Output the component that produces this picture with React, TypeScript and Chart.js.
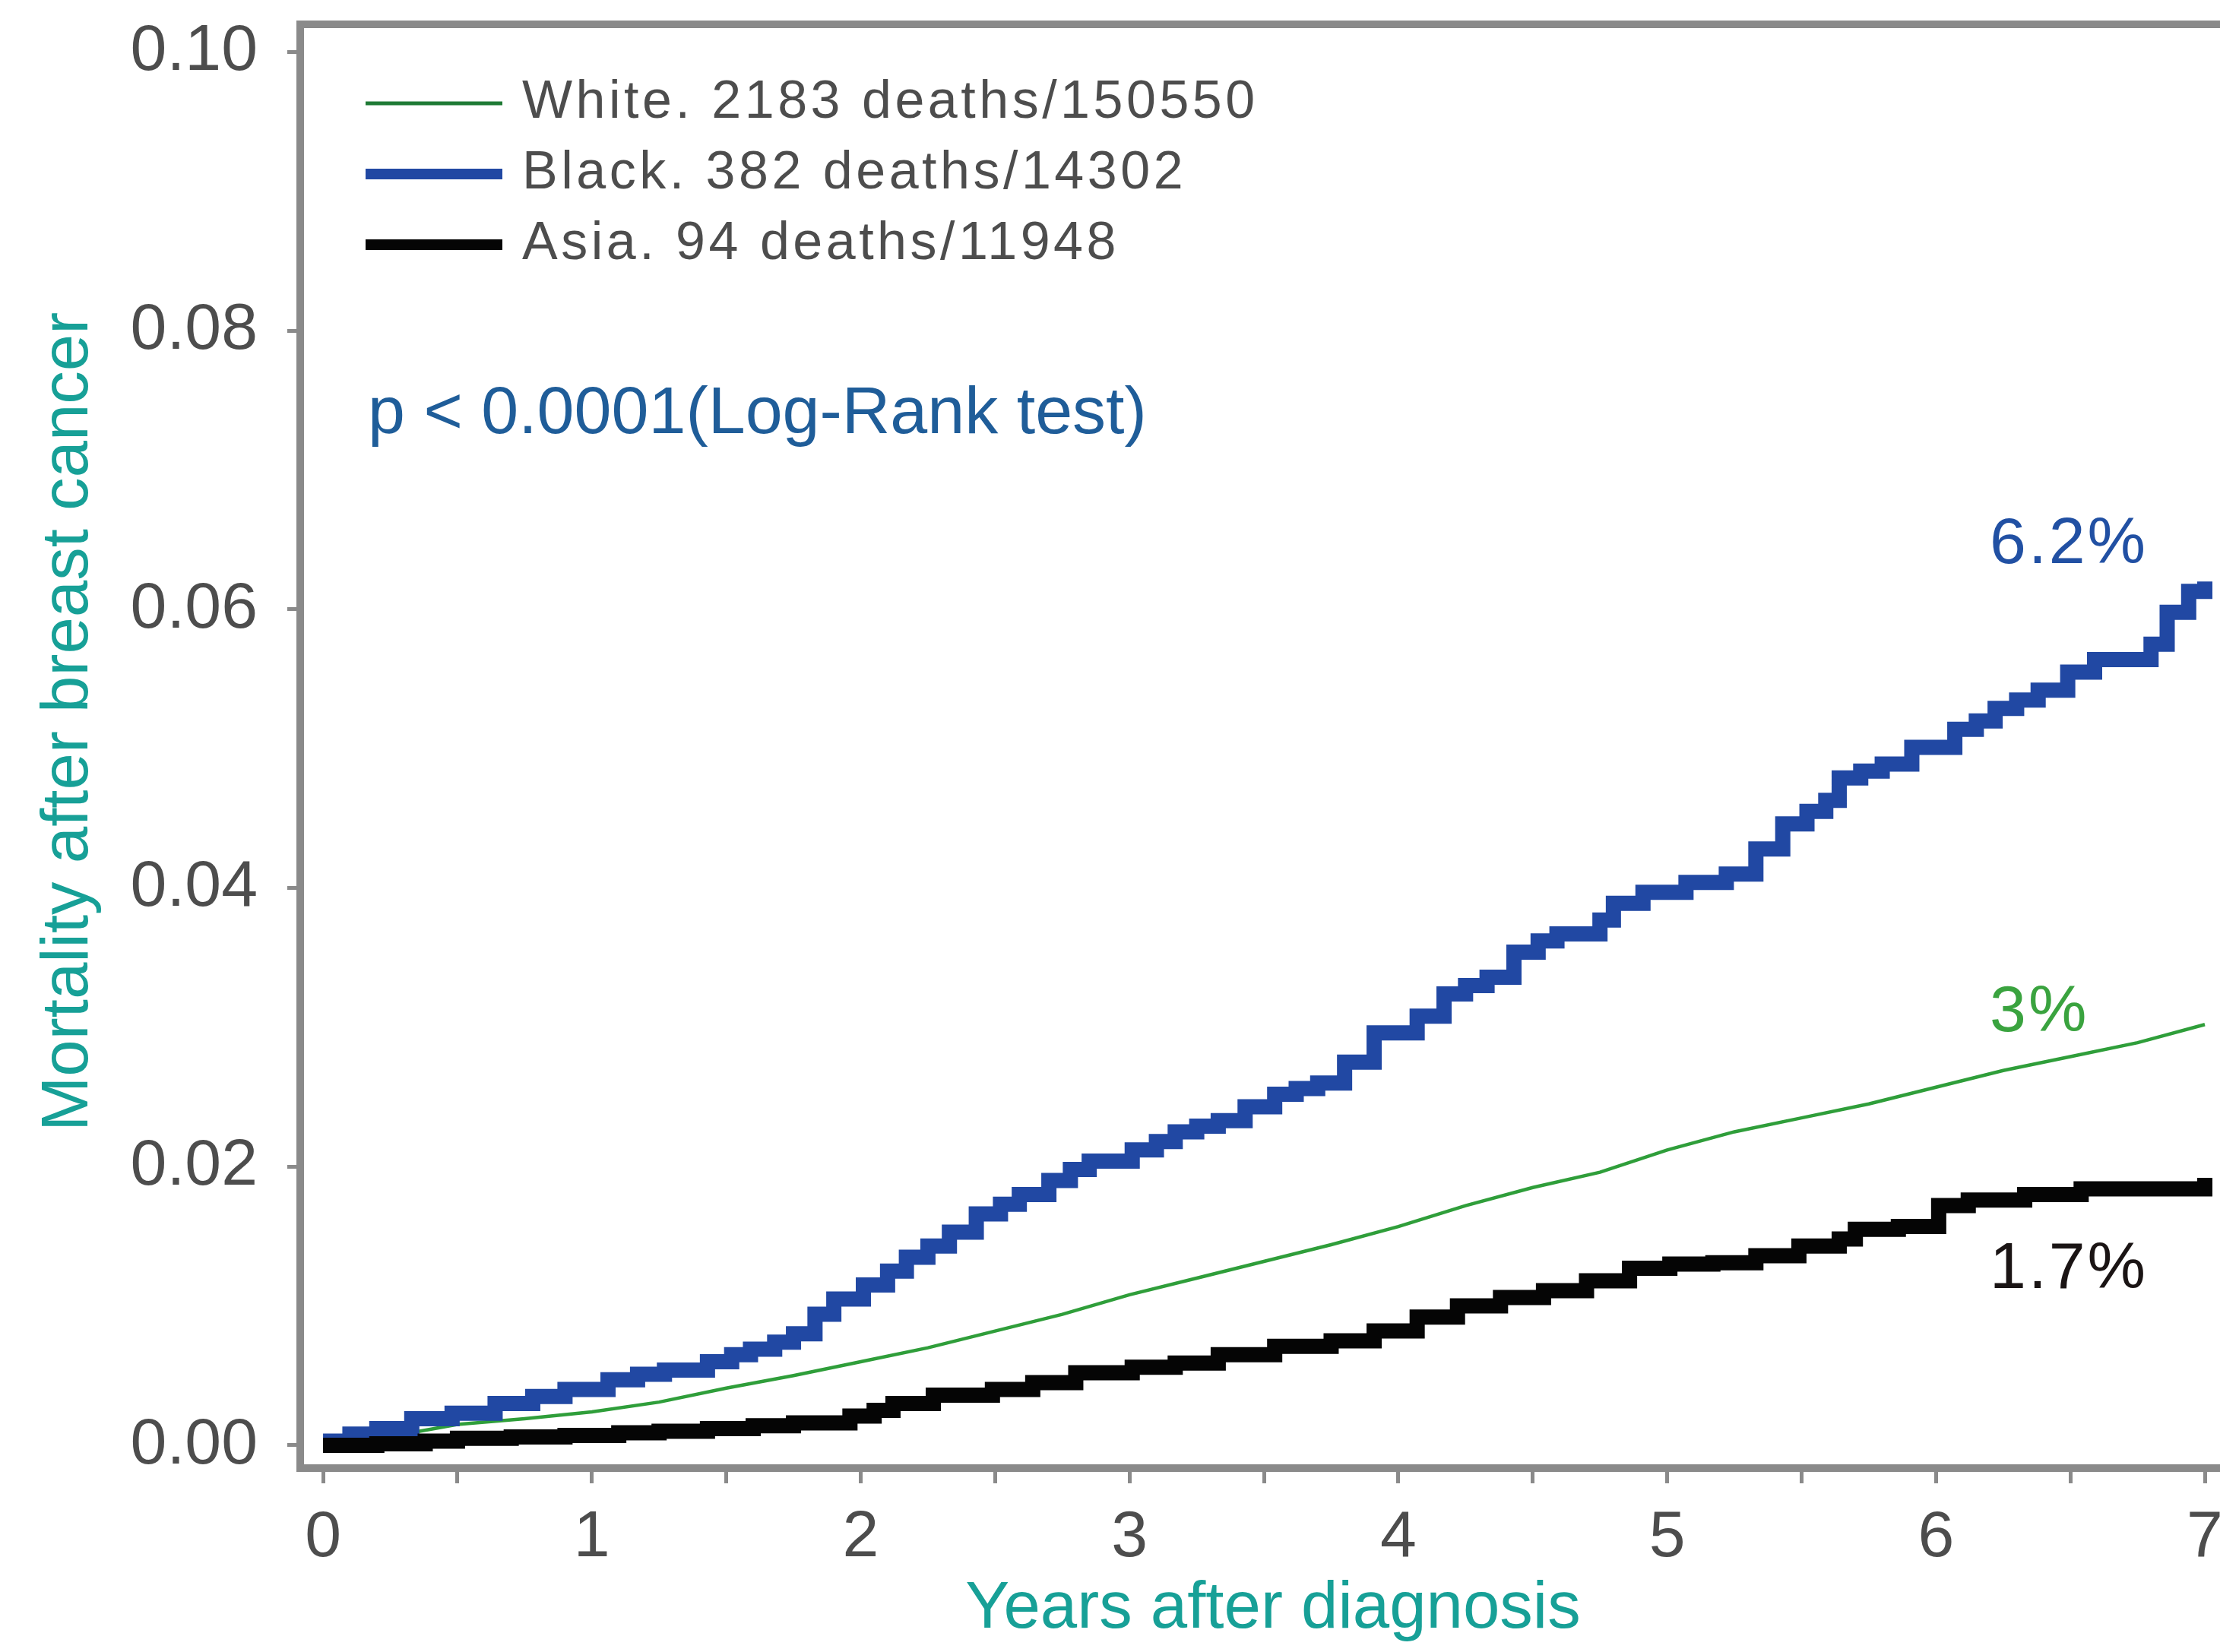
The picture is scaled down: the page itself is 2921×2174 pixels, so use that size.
import React, { useEffect, useRef } from 'react';
import { Chart, registerables } from 'chart.js';

Chart.register(...registerables);

const FONT = "'Liberation Sans', Arial, Helvetica, sans-serif";

// ---- Data ----
const seriesLabels = ['White. 2183 deaths/150550', 'Black. 382 deaths/14302', 'Asia. 94 deaths/11948'];

const whiteYears = [0, 0.15, 0.3, 0.5, 0.75, 1.0, 1.25, 1.5, 1.75, 2.0, 2.25, 2.5, 2.75, 3.0, 3.25, 3.5, 3.75, 4.0, 4.25, 4.5, 4.75, 5.0, 5.25, 5.5, 5.75, 6.0, 6.25, 6.5, 6.75, 7.0];
const whiteMortality = [0, 0.0003, 0.0008, 0.0015, 0.0019, 0.0024, 0.0031, 0.0041, 0.005, 0.006, 0.007, 0.0082, 0.0094, 0.0108, 0.012, 0.0132, 0.0144, 0.0157, 0.0172, 0.0185, 0.0196, 0.0212, 0.0225, 0.0235, 0.0245, 0.0257, 0.0269, 0.0279, 0.0289, 0.0302];

const blackYears = [0, 0.1, 0.2, 0.33, 0.48, 0.64, 0.78, 0.9, 1.06, 1.17, 1.27, 1.43, 1.52, 1.59, 1.68, 1.75, 1.83, 1.9, 2.01, 2.1, 2.17, 2.25, 2.33, 2.43, 2.52, 2.59, 2.7, 2.78, 2.85, 3.01, 3.1, 3.17, 3.25, 3.33, 3.43, 3.54, 3.62, 3.7, 3.8, 3.91, 4.07, 4.17, 4.25, 4.33, 4.43, 4.52, 4.59, 4.75, 4.8, 4.91, 5.07, 5.22, 5.33, 5.43, 5.52, 5.59, 5.64, 5.72, 5.8, 5.91, 6.07, 6.15, 6.22, 6.3, 6.38, 6.49, 6.59, 6.8, 6.86, 6.94, 7.0];
const blackMortality = [0.0003, 0.0008, 0.0012, 0.0019, 0.0023, 0.003, 0.0035, 0.004, 0.0047, 0.0051, 0.0054, 0.006, 0.0065, 0.0069, 0.0074, 0.008, 0.0094, 0.0105, 0.0115, 0.0125, 0.0135, 0.0143, 0.0153, 0.0166, 0.0173, 0.018, 0.019, 0.0198, 0.0204, 0.0212, 0.0218, 0.0225, 0.0229, 0.0233, 0.0243, 0.0252, 0.0256, 0.026, 0.0275, 0.0296, 0.0308, 0.0324, 0.033, 0.0336, 0.0354, 0.0362, 0.0367, 0.0377, 0.0389, 0.0397, 0.0404, 0.041, 0.0428, 0.0446, 0.0455, 0.0463, 0.0479, 0.0484, 0.0489, 0.0501, 0.0514, 0.052, 0.0529, 0.0535, 0.0542, 0.0555, 0.0564, 0.0575, 0.0598, 0.0613, 0.062];

const asiaYears = [0, 0.2, 0.38, 0.5, 0.7, 0.9, 1.1, 1.25, 1.43, 1.6, 1.75, 1.96, 2.05, 2.12, 2.27, 2.49, 2.64, 2.8, 3.01, 3.17, 3.33, 3.54, 3.75, 3.91, 4.07, 4.22, 4.38, 4.54, 4.7, 4.86, 5.01, 5.17, 5.33, 5.49, 5.64, 5.7, 5.86, 6.01, 6.12, 6.33, 6.54, 6.99, 7.0];
const asiaMortality = [0, 0.0001, 0.0003, 0.0005, 0.0006, 0.0007, 0.0009, 0.001, 0.0012, 0.0014, 0.0016, 0.0021, 0.0025, 0.003, 0.0036, 0.004, 0.0045, 0.0052, 0.0056, 0.0059, 0.0065, 0.0071, 0.0075, 0.0082, 0.0092, 0.01, 0.0106, 0.0111, 0.0118, 0.0127, 0.013, 0.0131, 0.0136, 0.0143, 0.0148, 0.0155, 0.0157, 0.0172, 0.0176, 0.018, 0.0184, 0.0184, 0.0192];

const xTickValues = [0, 0.5, 1, 1.5, 2, 2.5, 3, 3.5, 4, 4.5, 5, 5.5, 6, 6.5, 7];
const yTickValues = [0, 0.02, 0.04, 0.06, 0.08, 0.1];
const yTickLabels = ['0.00', '0.02', '0.04', '0.06', '0.08', '0.10'];

const endLabels = ['6.2%', '3%', '1.7%'];
const endLabelColors = ['#2150a3', '#3aa33f', '#1a1414'];
const endLabelX = [6.2, 6.2, 6.2];
const endLabelY = [0.0646, 0.031, 0.0126];

const pValueText = 'p < 0.0001(Log-Rank test)';
const xTitle = 'Years after diagnosis';
const yTitle = 'Mortality after breast cancer';

const toPoints = (xs: number[], ys: number[]) => xs.map((x, i) => ({ x, y: ys[i] }));

const AXIS_GRAY = '#8a8a8a';
const TICK_TEXT = '#4d4d4d';
const TEAL = '#17a097';

const overlayPlugin = {
  id: 'overlay',
  afterDraw(chart: any) {
    const { ctx, chartArea, scales } = chart;
    const xs = scales.x;
    const ys = scales.y;
    ctx.save();
    // top frame line
    ctx.strokeStyle = AXIS_GRAY;
    ctx.lineWidth = 10;
    ctx.beginPath();
    ctx.moveTo(chartArea.left - 5, chartArea.top);
    ctx.lineTo(chartArea.right, chartArea.top);
    ctx.stroke();

    // legend
    const rows = [136, 229, 322];
    chart.data.datasets.forEach((ds: any) => {
      const y = rows[ds.legendIndex];
      ctx.strokeStyle = ds.legendColor || ds.borderColor;
      ctx.lineWidth = ds.legendWidth;
      ctx.lineCap = 'butt';
      ctx.beginPath();
      ctx.moveTo(481, y);
      ctx.lineTo(661, y);
      ctx.stroke();
      ctx.fillStyle = TICK_TEXT;
      ctx.font = `70px ${FONT}`;
      (ctx as any).letterSpacing = '4.5px';
      ctx.textAlign = 'left';
      ctx.textBaseline = 'middle';
      ctx.fillText(ds.label, 687, y);
    });
    (ctx as any).letterSpacing = '0px';

    // p value
    ctx.fillStyle = '#1f5d99';
    ctx.font = `88px ${FONT}`;
    ctx.textAlign = 'left';
    ctx.textBaseline = 'middle';
    ctx.fillText(pValueText, 484, 546);

    // end labels
    (ctx as any).letterSpacing = '3px';
    ctx.font = `86px ${FONT}`;
    endLabels.forEach((t, i) => {
      ctx.fillStyle = endLabelColors[i];
      ctx.fillText(t, xs.getPixelForValue(endLabelX[i]), ys.getPixelForValue(endLabelY[i]));
    });
    (ctx as any).letterSpacing = '0px';

    // axis titles
    ctx.fillStyle = TEAL;
    ctx.font = `87px ${FONT}`;
    ctx.textAlign = 'center';
    ctx.textBaseline = 'middle';
    ctx.fillText(xTitle, 1675, 2118);
    ctx.translate(91, 950);
    ctx.rotate(-Math.PI / 2);
    ctx.fillText(yTitle, 0, 0);
    ctx.restore();
  },
};

export default function App() {
  const ref = useRef<HTMLCanvasElement | null>(null);

  useEffect(() => {
    if (!ref.current) return;
    const chart = new Chart(ref.current, {
      type: 'line',
      data: {
        datasets: [
          {
            label: seriesLabels[2],
            data: toPoints(asiaYears, asiaMortality),
            borderColor: '#050505',
            borderWidth: 20,
            stepped: true,
            pointRadius: 0,
            fill: false,
            order: 0,
            legendIndex: 2,
            legendWidth: 14,
          } as any,
          {
            label: seriesLabels[1],
            data: toPoints(blackYears, blackMortality),
            borderColor: '#2148a3',
            borderWidth: 20,
            stepped: true,
            pointRadius: 0,
            fill: false,
            order: 1,
            legendIndex: 1,
            legendWidth: 14,
          } as any,
          {
            label: seriesLabels[0],
            data: toPoints(whiteYears, whiteMortality),
            borderColor: '#2f9e3a',
            borderWidth: 4.5,
            stepped: false,
            pointRadius: 0,
            fill: false,
            order: 2,
            legendIndex: 0,
            legendWidth: 5,
            legendColor: '#1f7a35',
          } as any,
        ],
      },
      options: {
        responsive: false,
        animation: false,
        layout: { padding: { left: 20, top: 32, right: 0, bottom: 0 } },
        plugins: {
          legend: { display: false },
          tooltip: { enabled: false },
          title: { display: false },
        },
        scales: {
          x: {
            type: 'linear',
            position: 'bottom',
            min: -0.085,
            max: 7.0565,
            afterBuildTicks: (s: any) => {
              s.ticks = xTickValues.map((v) => ({ value: v }));
            },
            afterFit: (s: any) => {
              s.height = 242;
              s.paddingLeft = 0;
              s.paddingRight = 0;
            },
            ticks: {
              autoSkip: false,
              maxRotation: 0,
              minRotation: 0,
              padding: 21,
              color: TICK_TEXT,
              font: { family: FONT, size: 86 },
              callback: (v: any) => (Number.isInteger(v) ? String(v) : ''),
            },
            grid: {
              display: true,
              drawOnChartArea: false,
              drawTicks: true,
              tickLength: 20,
              tickWidth: 5,
              tickColor: AXIS_GRAY,
            },
            border: { display: true, color: AXIS_GRAY, width: 10 },
          },
          y: {
            type: 'linear',
            position: 'left',
            min: -0.00164,
            max: 0.102,
            afterBuildTicks: (s: any) => {
              s.ticks = yTickValues.map((v) => ({ value: v }));
            },
            afterFit: (s: any) => {
              s.width = 375;
              s.paddingTop = 0;
              s.paddingBottom = 0;
            },
            ticks: {
              autoSkip: false,
              padding: 39,
              color: TICK_TEXT,
              font: { family: FONT, size: 86 },
              callback: (v: any) => {
                const idx = yTickValues.findIndex((t) => Math.abs(t - v) < 1e-9);
                return idx >= 0 ? yTickLabels[idx] : '';
              },
            },
            grid: {
              display: true,
              drawOnChartArea: false,
              drawTicks: true,
              tickLength: 17,
              tickWidth: 5,
              tickColor: AXIS_GRAY,
            },
            border: { display: true, color: AXIS_GRAY, width: 10 },
          },
        },
      },
      plugins: [overlayPlugin],
    });
    return () => chart.destroy();
  }, []);

  return (
    <div style={{ position: 'absolute', left: 0, top: 0, width: 2921, height: 2174, background: '#fff' }}>
      <canvas ref={ref} width={2921} height={2174} style={{ display: 'block', width: 2921, height: 2174 }} />
    </div>
  );
}
